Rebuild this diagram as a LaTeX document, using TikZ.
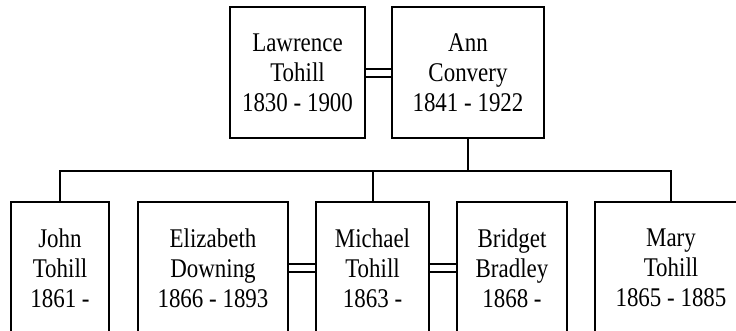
\documentclass[tikz,border=0pt]{standalone}
\usepackage{fontspec}
\setmainfont[FakeStretch=0.85]{Liberation Serif}
\usepackage{tikz}
\usetikzlibrary{positioning}
\tikzstyle{person} = [rectangle, draw=black, line width=2pt, fill=none, text=black, align=center, font=\fontsize{27}{30}\selectfont, minimum height=131pt, inner sep=0pt]
\tikzstyle{tedge}  = [draw, line width=2pt]
\tikzstyle{wed}  = [draw, line width=2pt, double, double distance=6pt]

\begin{document}
\begin{tikzpicture}[auto]
\useasboundingbox (0,0) rectangle (736pt,-330pt);
\clip (0,0) rectangle (736pt,-330pt);

% parents =============================
\node[person, minimum width=152pt] (ann) at (468pt,-72.5pt) {Ann\\Convery\\1841 - 1922};
\node[person, minimum width=135pt, left=25pt of ann] (lawrence) {Lawrence\\Tohill\\1830 - 1900};

% children =============================
\node[person, minimum width=98pt, minimum height=132pt] (john) at (60pt,-268pt) {John\\Tohill\\1861 -};
\node[person, minimum width=150pt, minimum height=132pt, right=27pt of john] (elizabeth) {Elizabeth\\Downing\\1866 - 1893};
\node[person, minimum width=113pt, minimum height=132pt, right=26pt of elizabeth] (michael) {Michael\\Tohill\\1863 -};
\node[person, minimum width=110pt, minimum height=132pt, right=26pt of michael] (bridget) {Bridget\\Bradley\\1868 -};
\node[person, minimum width=152pt, minimum height=132pt, right=26pt of bridget] (mary) {Mary\\Tohill\\1865 - 1885};

\coordinate[below=32pt of ann] (fork);

%edges
\path[tedge] (john.north) |- (fork) -| (mary.north);
\path[tedge] (ann.south) -- (fork);
\path[tedge] (michael.north) -- (michael.north |- fork);

%edges marriage
\path[wed] (lawrence) -- (ann);
\path[wed] (elizabeth) -- (michael);
\path[wed] (michael) -- (bridget);

\end{tikzpicture}
\end{document}
